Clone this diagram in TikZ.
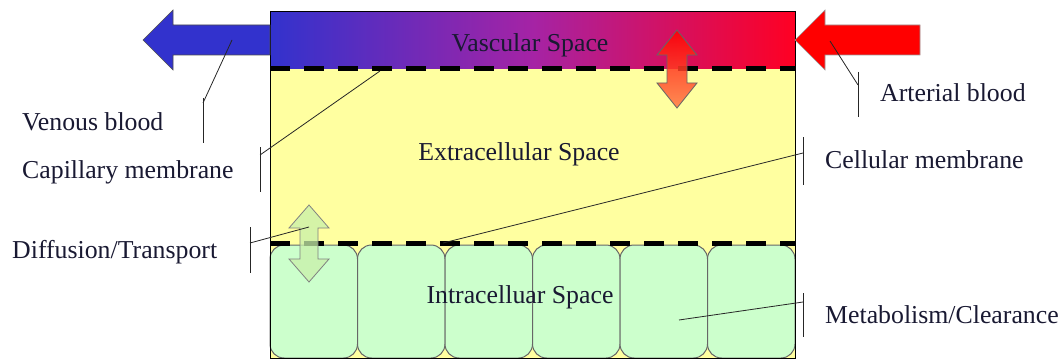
\documentclass[tikz,border=0pt]{standalone}
\usepackage{fontspec}
\setmainfont{Liberation Serif}
\usetikzlibrary{calc}
\definecolor{txt}{RGB}{25,25,50}
\definecolor{vblue}{RGB}{50,50,205}
\definecolor{vred}{RGB}{255,0,35}
\definecolor{vmid}{RGB}{165,35,165}
\definecolor{extra}{RGB}{255,255,160}
\definecolor{cellg}{RGB}{204,255,204}
\definecolor{orng}{RGB}{255,120,70}
\definecolor{lgreen}{RGB}{200,240,170}
\tikzset{
  lbl/.style={font=\fontsize{25.8}{30}\selectfont, text=txt, inner sep=0pt, anchor=base west},
  ctr/.style={font=\fontsize{25.8}{30}\selectfont, text=txt, inner sep=0pt, anchor=base},
  bar/.style={draw=black!85, line width=1pt},
  lead/.style={draw=black!85, line width=0.8pt},
  memb/.style={line width=5pt, dash pattern=on 20pt off 14pt},
  cellbox/.style={draw=black!60, line width=1pt, fill=cellg, rounded corners=14pt},
}
\begin{document}
\begin{tikzpicture}[x=1pt,y=-1pt]
\useasboundingbox (0,0) rectangle (1061,361);
% extracellular
\fill[extra] (270,69) rectangle (795,358);
% cells
\foreach \i in {0,...,5}{
  \path[cellbox] ({270+\i*87.5},245) rectangle ({270+(\i+1)*87.5},358);
}
% vascular
\shade[left color=vblue, right color=vred, middle color=vmid] (270,12) rectangle (795,69);
% outline
\draw[black, line width=1pt] (270,12) rectangle (795,358);
% blue arrow (venous)
\draw[fill=vblue, draw=black!70, line width=0.6pt] (270,25) -- (173,25) -- (173,10) -- (143,40) -- (173,70) -- (173,55) -- (270,55) -- cycle;
% red arrow (arterial)
\draw[fill=red, draw=black!40, line width=0.6pt] (920,25) -- (825,25) -- (825,10) -- (795,40) -- (825,70) -- (825,55) -- (920,55) -- cycle;
% membranes
\draw[memb] (270,69) -- (795,69);
\draw[memb] (270,243) -- (795,243);
% vascular exchange arrow
\path[top color=red, bottom color=orng, draw=black!60, line width=0.8pt, fill opacity=0.85]
  (677,30) -- (697,55) -- (687,55) -- (687,83) -- (697,83) -- (677,108) -- (657,83) -- (667,83) -- (667,55) -- (657,55) -- cycle;
% diffusion arrow
\path[fill=lgreen, fill opacity=0.75, draw=black!50, line width=0.8pt]
  (309,205) -- (329,228) -- (318,228) -- (318,259) -- (329,259) -- (309,282) -- (289,259) -- (300,259) -- (300,228) -- (289,228) -- cycle;
% center texts
\node[ctr] (vas) at (530,52) {Vascular Space};
\node[ctr] (ext) at (519,160) {Extracellular Space};
\node[ctr] (intr) at (520,303) {Intracelluar Space};
% labels
\node[lbl] (ven) at (22,130) {Venous blood};
\node[lbl] (cap) at (22,178) {Capillary membrane};
\node[lbl] (dif) at (12,258) {Diffusion/Transport};
\node[lbl] (art) at (880,102) {Arterial blood};
\node[lbl] (cel) at (825,168) {Cellular membrane};
\node[lbl] (met) at (825,323) {Metabolism/Clearance};
% leader coordinates
\coordinate (venA) at (203,98); \coordinate (venB) at (203,143); \coordinate (venP) at (203,103); \coordinate (venT) at (232,40);
\coordinate (capA) at (260,147); \coordinate (capB) at (260,192); \coordinate (capP) at (260,155); \coordinate (capT) at (380,71);
\coordinate (difA) at (250,227); \coordinate (difB) at (250,273); \coordinate (difP) at (250,243); \coordinate (difT) at (309,227);
\coordinate (artA) at (858,72); \coordinate (artB) at (858,117); \coordinate (artP) at (858,85); \coordinate (artT) at (830,41);
\coordinate (celA) at (803,137); \coordinate (celB) at (803,185); \coordinate (celP) at (803,153); \coordinate (celT) at (443,243);
\coordinate (metA) at (803,293); \coordinate (metB) at (803,337); \coordinate (metP) at (803,302); \coordinate (metT) at (679,320);
\foreach \n in {ven,cap,dif,art,cel,met}{
  \draw[bar] (\n A) -- (\n B);
  \draw[lead] (\n P) -- (\n T);
}
\end{tikzpicture}
\end{document}
